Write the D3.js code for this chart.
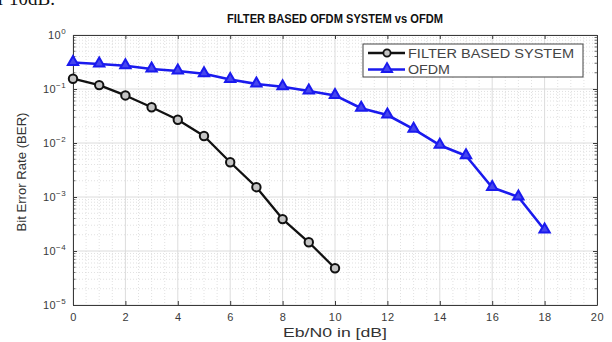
<!DOCTYPE html>
<html>
<head>
<meta charset="utf-8">
<script src="https://cdn.jsdelivr.net/npm/d3@7"></script>
<style>
  html, body { margin: 0; padding: 0; background: #fff; }
  svg { display: block; }
  text { font-family: "Liberation Sans", Arial, Helvetica, sans-serif; }
</style>
</head>
<body>
<svg id="chart" width="612" height="342"></svg>
<script>
// Eb/N0 sweep in dB
const ebnoFilter = [0, 1, 2, 3, 4, 5, 6, 7, 8, 9, 10];
const berFilter  = [0.155, 0.118, 0.076, 0.046, 0.027, 0.0135, 0.0044, 0.00152, 0.00039, 0.000145, 0.000048];

const ebnoOfdm = [0, 1, 2, 3, 4, 5, 6, 7, 8, 9, 10, 11, 12, 13, 14, 15, 16, 17, 18];
const berOfdm  = [0.31, 0.29, 0.27, 0.235, 0.215, 0.192, 0.15, 0.124, 0.11, 0.092, 0.076,
                  0.044, 0.033, 0.018, 0.0091, 0.0058, 0.0015, 0.001, 0.000245];

const xTicks = [0, 2, 4, 6, 8, 10, 12, 14, 16, 18, 20];
const yExponents = [0, -1, -2, -3, -4, -5];

const seriesNames = ["FILTER BASED SYSTEM", "OFDM"];
const titleText = "FILTER BASED OFDM SYSTEM vs OFDM";
const xLabel = "Eb/N0 in [dB]";
const yLabel = "Bit Error Rate (BER)";

const W = 612, H = 342;
const m = { left: 73, right: 15, top: 35, bottom: 37 };
const pw = W - m.left - m.right, ph = H - m.top - m.bottom;

const svg = d3.select("#chart");

// running text of the surrounding page, clipped at the top edge
svg.append("text")
  .attr("x", -2).attr("y", 5)
  .style("font-family", "'Liberation Serif', 'Times New Roman', serif")
  .style("font-size", "19px")
  .attr("fill", "#111")
  .text("r 10dB.");

const x = d3.scaleLinear().domain([0, 20]).range([0, pw]);
const y = d3.scaleLog().domain([1e-5, 1]).range([ph, 0]);

const g = svg.append("g").attr("transform", `translate(${m.left},${m.top})`);

// minor grid
const xMinor = d3.range(0, 20.01, 0.5).filter(v => v % 2 !== 0);
const yMinor = [];
for (let e = -5; e < 0; e++) for (let k = 2; k <= 9; k++) yMinor.push(k * Math.pow(10, e));

g.append("g").selectAll("line").data(xMinor).join("line")
  .attr("x1", d => x(d)).attr("x2", d => x(d)).attr("y1", 0).attr("y2", ph)
  .attr("stroke", "#d4d4d4").attr("stroke-width", 0.7).attr("stroke-dasharray", "1,2");
g.append("g").selectAll("line").data(yMinor).join("line")
  .attr("x1", 0).attr("x2", pw).attr("y1", d => y(d)).attr("y2", d => y(d))
  .attr("stroke", "#d4d4d4").attr("stroke-width", 0.7).attr("stroke-dasharray", "1,2");

// major grid
g.append("g").selectAll("line").data(xTicks).join("line")
  .attr("x1", d => x(d)).attr("x2", d => x(d)).attr("y1", 0).attr("y2", ph)
  .attr("stroke", "#dcdcdc").attr("stroke-width", 1);
g.append("g").selectAll("line").data(yExponents).join("line")
  .attr("x1", 0).attr("x2", pw).attr("y1", d => y(Math.pow(10, d))).attr("y2", d => y(Math.pow(10, d)))
  .attr("stroke", "#dcdcdc").attr("stroke-width", 1);

// axes (ticks pointing inward, box on all four sides)
const tickColor = "#3a3a3a";
const xAxisB = d3.axisBottom(x).tickValues(xTicks).tickSizeInner(-4).tickSizeOuter(0).tickPadding(8);
const xAxisT = d3.axisTop(x).tickValues(xTicks).tickSizeInner(-4).tickSizeOuter(0).tickFormat("");
const yVals = yExponents.map(e => Math.pow(10, e));
const yAxisL = d3.axisLeft(y).tickValues(yVals).tickSizeInner(-4).tickSizeOuter(0).tickFormat("");
const yAxisR = d3.axisRight(y).tickValues(yVals).tickSizeInner(-4).tickSizeOuter(0).tickFormat("");

function styleAxis(sel) {
  sel.select(".domain").attr("stroke", tickColor).attr("stroke-width", 1);
  sel.selectAll(".tick line").attr("stroke", tickColor);
  sel.selectAll(".tick text").attr("fill", "#3a3a3a")
    .style("font-size", "11px").style("letter-spacing", "0.6px")
    .style("font-family", "'Liberation Sans', Arial, sans-serif");
}
g.append("g").attr("transform", `translate(0,${ph})`).call(xAxisB).call(styleAxis);
g.append("g").call(xAxisT).call(styleAxis);
g.append("g").call(yAxisL).call(styleAxis);
g.append("g").attr("transform", `translate(${pw},0)`).call(yAxisR).call(styleAxis);

// minor y ticks on left and right
g.append("g").selectAll("line").data(yMinor).join("line")
  .attr("x1", 0).attr("x2", 2.5).attr("y1", d => y(d)).attr("y2", d => y(d))
  .attr("stroke", tickColor).attr("stroke-width", 0.7);
g.append("g").selectAll("line").data(yMinor).join("line")
  .attr("x1", pw - 2.5).attr("x2", pw).attr("y1", d => y(d)).attr("y2", d => y(d))
  .attr("stroke", tickColor).attr("stroke-width", 0.7);

// y tick labels as 10 with superscript exponent
const yLab = g.append("g");
yExponents.forEach(e => {
  const t = yLab.append("text")
    .attr("x", -7).attr("y", y(Math.pow(10, e)) + 4)
    .attr("text-anchor", "end")
    .attr("fill", "#3a3a3a")
    .style("font-size", "11px").style("letter-spacing", "0.4px");
  t.append("tspan").text("10");
  t.append("tspan").attr("dy", -5).style("font-size", "8px").text(e === 0 ? "0" : "\u2212" + (-e));
});

// series
const filterData = ebnoFilter.map((v, i) => [v, berFilter[i]]);
const ofdmData = ebnoOfdm.map((v, i) => [v, berOfdm[i]]);
const line = d3.line().x(d => x(d[0])).y(d => y(d[1]));

const black = "#111111", blue = "#1a1aee";

g.append("path").datum(ofdmData).attr("d", line)
  .attr("fill", "none").attr("stroke", blue).attr("stroke-width", 2.6).attr("stroke-linejoin", "round");
const tri = d3.symbol().type(d3.symbolTriangle).size(46);
g.append("g").selectAll("path").data(ofdmData).join("path")
  .attr("d", tri)
  .attr("transform", d => `translate(${x(d[0])},${y(d[1]) - 0.5})`)
  .attr("fill", "#4646ee").attr("stroke", blue).attr("stroke-width", 2);

g.append("path").datum(filterData).attr("d", line)
  .attr("fill", "none").attr("stroke", black).attr("stroke-width", 2.3).attr("stroke-linejoin", "round");
g.append("g").selectAll("circle").data(filterData).join("circle")
  .attr("cx", d => x(d[0])).attr("cy", d => y(d[1])).attr("r", 4.2)
  .attr("fill", "#c4c4c4").attr("stroke", black).attr("stroke-width", 2);

// legend
const lg = svg.append("g").attr("transform", "translate(363,44)");
lg.append("rect").attr("width", 220).attr("height", 33)
  .attr("fill", "#fff").attr("stroke", "#444").attr("stroke-width", 1);
const legendItems = [
  { name: seriesNames[0], color: black, kind: "circle", len: 166 },
  { name: seriesNames[1], color: blue, kind: "tri", len: 42 }
];
legendItems.forEach((it, i) => {
  const yy = 9 + i * 16.5;
  lg.append("line").attr("x1", 5).attr("x2", 42).attr("y1", yy).attr("y2", yy)
    .attr("stroke", it.color).attr("stroke-width", 2.4);
  if (it.kind === "circle") {
    lg.append("circle").attr("cx", 24).attr("cy", yy).attr("r", 3.6)
      .attr("fill", "#c4c4c4").attr("stroke", it.color).attr("stroke-width", 1.8);
  } else {
    lg.append("path").attr("d", tri).attr("transform", `translate(24,${yy - 0.5})`)
      .attr("fill", "#4646ee").attr("stroke", it.color).attr("stroke-width", 1.8);
  }
  lg.append("text").attr("x", 45).attr("y", yy + 4.5)
    .attr("fill", "#444").style("font-size", "12px")
    .attr("textLength", it.len).attr("lengthAdjust", "spacingAndGlyphs")
    .text(it.name);
});

// title and axis labels
svg.append("text").attr("x", m.left + pw / 2).attr("y", 22.5)
  .attr("text-anchor", "middle").attr("fill", "#111")
  .style("font-size", "12.5px").style("font-weight", "bold")
  .attr("textLength", 216).attr("lengthAdjust", "spacingAndGlyphs")
  .text(titleText);
svg.append("text").attr("x", m.left + pw / 2).attr("y", 337)
  .attr("text-anchor", "middle").attr("fill", "#333")
  .style("font-size", "12.5px")
  .attr("textLength", 104).attr("lengthAdjust", "spacingAndGlyphs")
  .text(xLabel);
svg.append("text").attr("transform", "translate(26,172) rotate(-90)")
  .attr("text-anchor", "middle").attr("fill", "#333")
  .style("font-size", "13px")
  .attr("textLength", 119).attr("lengthAdjust", "spacingAndGlyphs")
  .text(yLabel);
</script>
</body>
</html>
